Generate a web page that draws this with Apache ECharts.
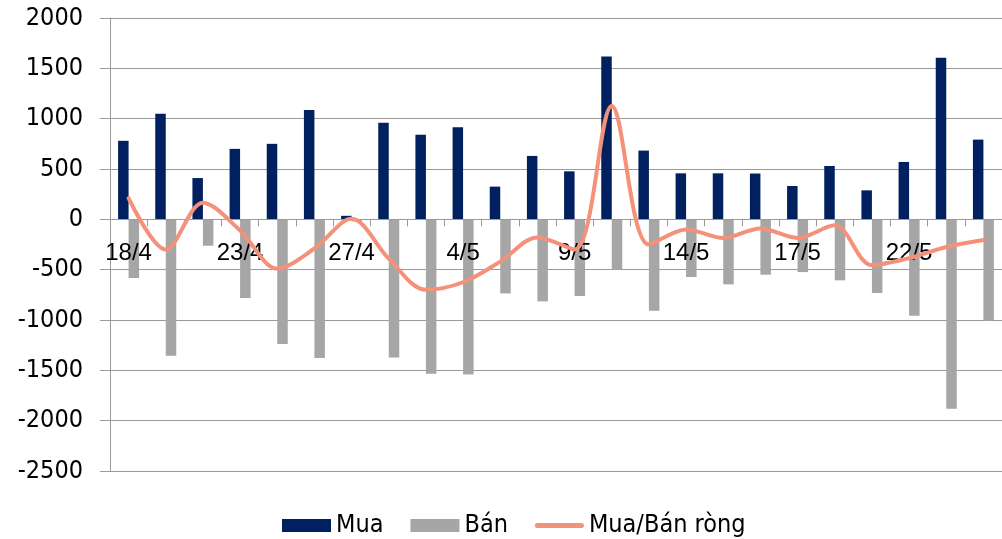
<!DOCTYPE html>
<html>
<head>
<meta charset="utf-8">
<script src="https://cdn.jsdelivr.net/npm/echarts@6/dist/echarts.min.js"></script>
<style>
html,body{margin:0;padding:0;background:#fff;}
#c{width:1002px;height:539px;}
</style>
</head>
<body>
<div id="c"></div>
<script>
var categories = ['18/4','19/4','20/4','23/4','24/4','25/4','27/4','2/5','3/5','4/5','7/5','8/5','9/5','10/5','11/5','14/5','15/5','16/5','17/5','18/5','21/5','22/5','23/5','24/5'];
var muaValues = [780, 1050, 410, 700, 750, 1085, 35, 960, 840, 915, 325, 630, 477, 1617, 683, 457, 457, 455, 331, 530, 288, 570, 1604, 792];
var banValues = [-583, -1355, -262, -782, -1239, -1378, -20, -1372, -1534, -1541, -736, -815, -762, -500, -908, -573, -646, -550, -524, -606, -732, -958, -1882, -1004];
var netValues = [210, -300, 165, -110, -490, -290, 5, -390, -700, -625, -420, -180, -300, 1125, -250, -100, -185, -90, -185, -60, -455, -385, -275, -205];
var yTicks = {min: -2500, max: 2000, interval: 500};

var gridTop = 18, gridHeight = 453;
var zeroOffset = -gridHeight * (0 - yTicks.min) / (yTicks.max - yTicks.min);

var chart = echarts.init(document.getElementById('c'), null, {renderer: 'canvas'});
var gridColor = '#9a9a9a';
var lineColor = '#F4917A';
chart.setOption({
  animation: false,
  backgroundColor: '#ffffff',
  grid: {left: 110, top: gridTop, width: 895, height: gridHeight, containLabel: false},
  legend: {
    top: 508,
    left: 277,
    itemWidth: 49,
    itemHeight: 13,
    itemGap: 27,
    textStyle: {fontFamily: 'DejaVu Sans Condensed, DejaVu Sans', fontSize: 25, color: '#000'},
    data: [
      {name: 'Mua', icon: 'rect'},
      {name: 'Bán', icon: 'rect'},
      {name: 'Mua/Bán ròng', icon: 'path://M2.5,0 L46.5,0 A2.5,2.5 0 0 1 46.5,5 L2.5,5 A2.5,2.5 0 0 1 2.5,0 Z'}
    ]
  },
  xAxis: {
    type: 'category',
    data: categories,
    boundaryGap: true,
    offset: zeroOffset,
    zlevel: 1,
    z: 1,
    axisLine: {onZero: false, lineStyle: {color: gridColor, width: 1}},
    axisTick: {show: true, length: 7, interval: 0, lineStyle: {color: gridColor}},
    axisLabel: {interval: 2, margin: 22, fontFamily: 'Liberation Sans, Arial', fontSize: 24, color: '#000'},
    splitLine: {show: false}
  },
  yAxis: {
    type: 'value',
    min: yTicks.min,
    max: yTicks.max,
    interval: yTicks.interval,
    axisLine: {show: true, lineStyle: {color: gridColor, width: 1}},
    axisTick: {show: true, length: 10, lineStyle: {color: gridColor}},
    axisLabel: {margin: 27, fontFamily: 'DejaVu Sans Condensed, DejaVu Sans', fontSize: 25, color: '#000',
      formatter: function (v) { return String(v); }},
    splitLine: {show: true, lineStyle: {color: gridColor, width: 1}}
  },
  series: [
    {name: 'Mua', type: 'bar', data: muaValues, barWidth: 10.5, barGap: '0%', itemStyle: {color: '#00205F'}},
    {name: 'Bán', type: 'bar', data: banValues, barWidth: 10.5, barGap: '0%', itemStyle: {color: '#A6A6A6'}},
    {name: 'Mua/Bán ròng', type: 'line', data: netValues, smooth: 0.33, symbol: 'none', zlevel: 1, z: 5,
     lineStyle: {color: lineColor, width: 4, cap: 'round'}, itemStyle: {color: lineColor}}
  ]
});
</script>
</body>
</html>
